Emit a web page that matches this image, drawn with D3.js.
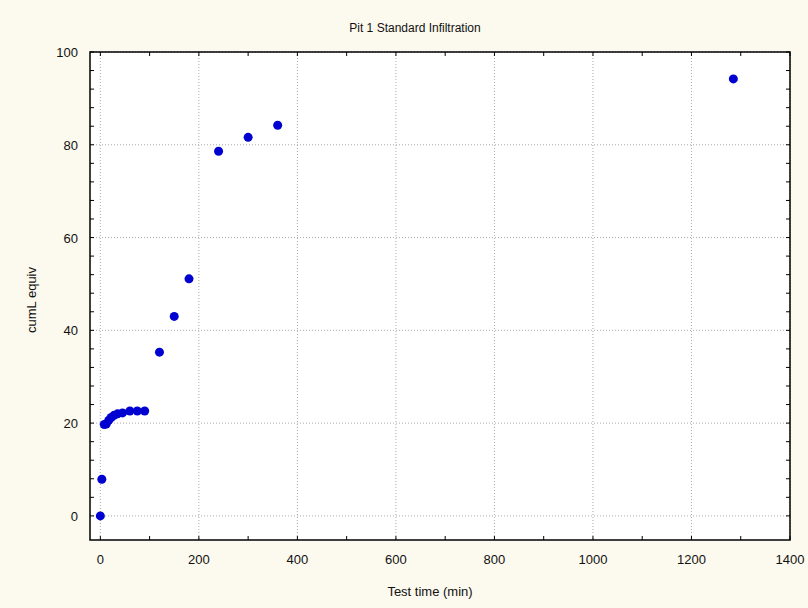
<!DOCTYPE html>
<html>
<head>
<meta charset="utf-8">
<script src="https://cdn.jsdelivr.net/npm/d3@7"></script>
<style>
  body { margin: 0; background: #fcf9ee; }
  text { font-family: "Liberation Sans", Arial, sans-serif; fill: #111; }
</style>
</head>
<body>
<div id="chart"></div>
<script>
// data
const testTime = [0, 3, 8, 12, 17, 22, 28, 35, 45, 60, 75, 90, 120, 150, 180, 240, 300, 360, 1285];
const cumL = [0, 7.9, 19.7, 19.8, 20.6, 21.2, 21.7, 22.0, 22.2, 22.6, 22.6, 22.6, 35.3, 43.0, 51.1, 78.6, 81.6, 84.2, 94.2];
const xTicks = [0, 200, 400, 600, 800, 1000, 1200, 1400];
const yTicks = [0, 20, 40, 60, 80, 100];

const W = 808, H = 608;
const margin = { top: 52, right: 18, bottom: 68, left: 90 };
const width = W - margin.left - margin.right;
const height = H - margin.top - margin.bottom;

const svg = d3.select('#chart').append('svg')
  .attr('width', W)
  .attr('height', H);

svg.append('rect').attr('width', W).attr('height', H).attr('fill', '#fcf9ee');

const chart = svg.append('g')
  .attr('transform', `translate(${margin.left}, ${margin.top})`);

const x = d3.scaleLinear().domain([-21, 1400]).range([0, width]);
const y = d3.scaleLinear().domain([-5.2, 100]).range([height, 0]);

chart.append('rect')
  .attr('width', width).attr('height', height)
  .attr('fill', '#fff');

// dotted grid at major ticks
chart.append('g').selectAll('line').data(xTicks).join('line')
  .attr('x1', d => x(d)).attr('x2', d => x(d))
  .attr('y1', 0).attr('y2', height)
  .attr('stroke', '#aaa').attr('stroke-dasharray', '1,2');
chart.append('g').selectAll('line').data(yTicks).join('line')
  .attr('y1', d => y(d)).attr('y2', d => y(d))
  .attr('x1', 0).attr('x2', width)
  .attr('stroke', '#aaa').attr('stroke-dasharray', '1,2');

// inward ticks on all sides
const xMinor = d3.range(0, 1401, 100);
const yMinor = d3.range(0, 101, 4);
const tick = 4;
const axes = chart.append('g').attr('stroke', '#000');
axes.selectAll('.xb').data(xMinor).join('line')
  .attr('x1', d => x(d)).attr('x2', d => x(d)).attr('y1', height).attr('y2', height - tick);
axes.selectAll('.xt').data(xMinor).join('line')
  .attr('x1', d => x(d)).attr('x2', d => x(d)).attr('y1', 0).attr('y2', tick);
axes.selectAll('.yl').data(yMinor).join('line')
  .attr('y1', d => y(d)).attr('y2', d => y(d)).attr('x1', 0).attr('x2', tick);
axes.selectAll('.yr').data(yMinor).join('line')
  .attr('y1', d => y(d)).attr('y2', d => y(d)).attr('x1', width).attr('x2', width - tick);

chart.append('rect')
  .attr('width', width).attr('height', height)
  .attr('fill', 'none').attr('stroke', '#000').attr('stroke-width', 1.5);

// tick labels
chart.append('g').selectAll('text').data(xTicks).join('text')
  .attr('x', d => x(d)).attr('y', height + 24)
  .attr('text-anchor', 'middle')
  .style('font-size', '13px')
  .text(d => d);
chart.append('g').selectAll('text').data(yTicks).join('text')
  .attr('x', -12).attr('y', d => y(d) + 5)
  .attr('text-anchor', 'end')
  .style('font-size', '13px')
  .text(d => d);

// points
chart.append('g').selectAll('circle').data(testTime).join('circle')
  .attr('cx', d => x(d))
  .attr('cy', (d, i) => y(cumL[i]))
  .attr('r', 4.5)
  .attr('fill', '#0000d0');

svg.append('text')
  .attr('x', 415).attr('y', 32)
  .attr('text-anchor', 'middle')
  .style('font-size', '12px')
  .text('Pit 1 Standard Infiltration');

svg.append('text')
  .attr('x', 430).attr('y', 596)
  .attr('text-anchor', 'middle')
  .style('font-size', '13px')
  .text('Test time (min)');

svg.append('text')
  .attr('transform', 'translate(36, 300) rotate(-90)')
  .attr('text-anchor', 'middle')
  .style('font-size', '13px')
  .text('cumL equiv');
</script>
</body>
</html>
